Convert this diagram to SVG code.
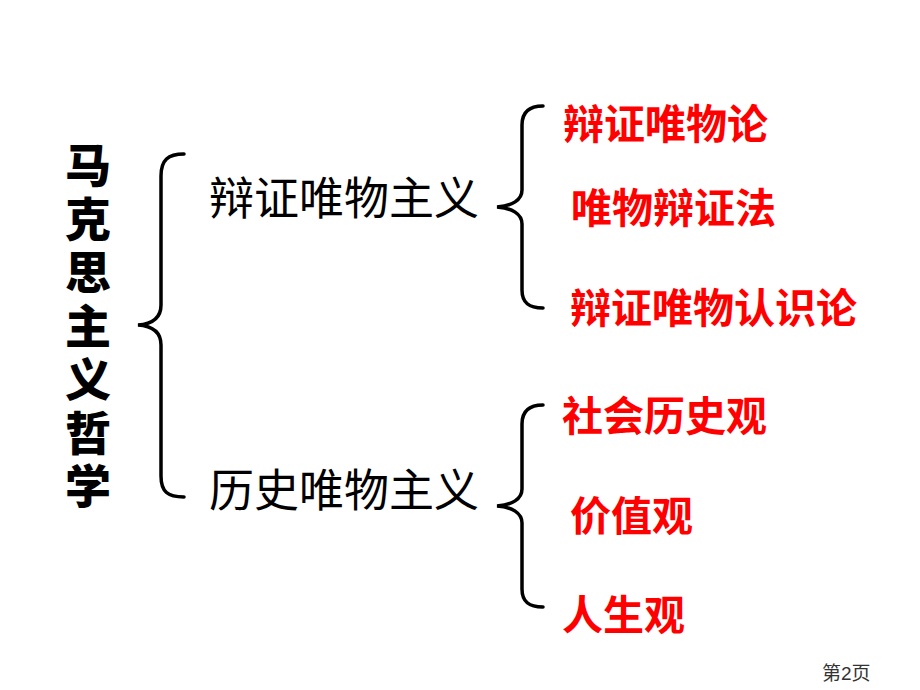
<svg xmlns="http://www.w3.org/2000/svg" width="920" height="690" viewBox="0 0 920 690">
<style>
.t{font-family:"Noto Sans CJK SC","Noto Sans",sans-serif}
.title{font-size:46px;font-weight:900;fill:#000;writing-mode:vertical-rl;letter-spacing:7.5px}
.mid{font-size:45px;font-weight:400;fill:#000}
.leaf{font-size:41px;font-weight:700;fill:#FF0000}
.brace{fill:none;stroke:#000;stroke-width:3.5;stroke-linecap:round}
.page{font-size:19px;fill:#333;font-family:"Liberation Sans","Noto Sans CJK SC",sans-serif}
</style>
<rect width="920" height="690" fill="#fff"/>
<g id="connectors">
<path class="brace" d="M184,154 C168,154 161,160 161,176 L161,305 C161,318 152,324 138,325 C152,326 161,332 161,345 L161,476 C161,492 168,497 184,497"/>
<path class="brace" d="M543,106 C529,106 522,112 522,125 L522,190 C522,200 512,206 497,207 C512,208 522,214 522,224 L522,290 C522,303 529,308 543,308"/>
<path class="brace" d="M543,405 C529,405 522,411 522,424 L522,489 C522,499 512,505 497,506 C512,507 522,513 522,523 L522,589 C522,602 529,607 543,607"/>
</g>
<g id="root">
<text class="t title" x="88" y="142">马克思主义哲学</text>
</g>
<g id="n-bianzheng"><text class="t mid" x="209" y="215">辩证唯物主义</text></g>
<g id="n-lishi"><text class="t mid" x="209" y="507">历史唯物主义</text></g>
<g id="n-weiwulun"><text class="t leaf" x="563" y="139">辩证唯物论</text></g>
<g id="n-bianzhengfa"><text class="t leaf" x="571" y="223">唯物辩证法</text></g>
<g id="n-renshilun"><text class="t leaf" x="570" y="323">辩证唯物认识论</text></g>
<g id="n-shehui"><text class="t leaf" x="562" y="431">社会历史观</text></g>
<g id="n-jiazhi"><text class="t leaf" x="570" y="531">价值观</text></g>
<g id="n-rensheng"><text class="t leaf" x="562" y="630">人生观</text></g>
<text class="page" x="822" y="680">第2页</text>
</svg>
